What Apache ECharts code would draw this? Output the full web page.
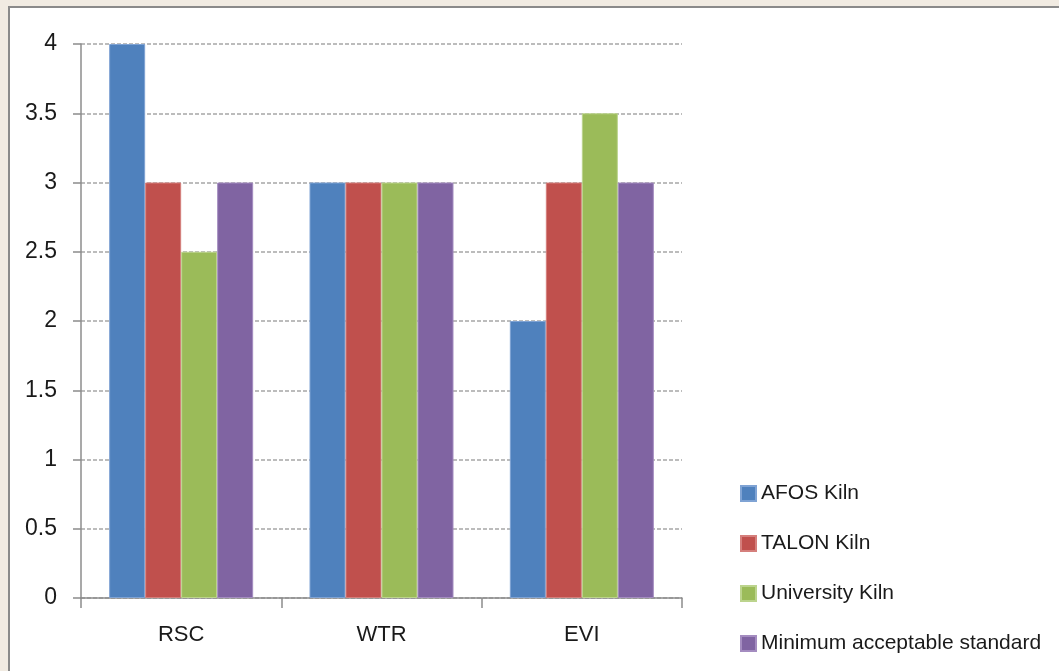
<!DOCTYPE html>
<html>
<head>
<meta charset="utf-8">
<script src="https://cdn.jsdelivr.net/npm/echarts@6/dist/echarts.min.js"></script>
<style>
  html, body { margin: 0; padding: 0; width: 1059px; height: 671px; overflow: hidden; background: #f1ebe2; }
  #frame { position: absolute; left: 8px; top: 6px; width: 1100px; height: 720px; background: #ffffff; border: 2px solid #8a8a8a; box-sizing: border-box; }
  #chart { position: absolute; left: 0; top: 0; width: 1059px; height: 671px; }
</style>
</head>
<body>
<div id="frame"></div>
<div id="chart"></div>
<script>
// Kiln assessment scores per criterion
const categories = ['RSC', 'WTR', 'EVI'];
const seriesNames = ['AFOS Kiln', 'TALON Kiln', 'University Kiln', 'Minimum acceptable standard'];
const afos = [4, 3, 2];
const talon = [3, 3, 3];
const university = [2.5, 3, 3.5];
const minimumStandard = [3, 3, 3];
const yTicks = [0, 0.5, 1, 1.5, 2, 2.5, 3, 3.5, 4];

const colors = ['#4f81bd', '#c0504d', '#9bbb59', '#8064a2'];
const borders = ['#7fa3d4', '#d57f7c', '#bcd48d', '#a48cc0'];
const FONT = '"Liberation Sans Narrow", "Arial Narrow", "Liberation Sans", Arial, sans-serif';

const values = [afos, talon, university, minimumStandard];

const chart = echarts.init(document.getElementById('chart'), null, { renderer: 'canvas' });
chart.setOption({
  backgroundColor: 'transparent',
  animation: false,
  color: colors,
  grid: { left: 81, right: 377, top: 44, bottom: 73, containLabel: false },
  legend: {
    orient: 'vertical',
    left: 735,
    top: 478,
    height: 200,
    itemWidth: 15,
    itemHeight: 15,
    itemGap: 29,
    icon: 'rect',
    textStyle: { fontFamily: FONT, fontSize: 21, color: '#1a1a1a', padding: [0, 0, 0, 0] },
    data: seriesNames
  },
  xAxis: {
    type: 'category',
    data: categories,
    axisLine: { lineStyle: { color: '#8c8c8c', width: 1.5 } },
    axisTick: { show: true, length: 10, lineStyle: { color: '#8c8c8c', width: 1.5 } },
    axisLabel: { fontFamily: FONT, fontSize: 22, color: '#1a1a1a', margin: 26 }
  },
  yAxis: {
    type: 'value',
    min: yTicks[0],
    max: yTicks[yTicks.length - 1],
    interval: 0.5,
    axisLine: { show: true, lineStyle: { color: '#8c8c8c', width: 1.5 } },
    axisTick: { show: true, inside: false, length: 8, lineStyle: { color: '#8c8c8c', width: 1.5 } },
    axisLabel: { fontFamily: FONT, fontSize: 23, color: '#1a1a1a', margin: 24 },
    splitLine: { show: true, lineStyle: { color: '#a6a6a6', type: [4, 2], width: 1.5 } }
  },
  series: seriesNames.map((name, i) => ({
    name: name,
    type: 'bar',
    data: values[i],
    barWidth: 36,
    barGap: '0%',
    itemStyle: { color: colors[i], borderColor: borders[i], borderWidth: 1 }
  }))
});
</script>
</body>
</html>
